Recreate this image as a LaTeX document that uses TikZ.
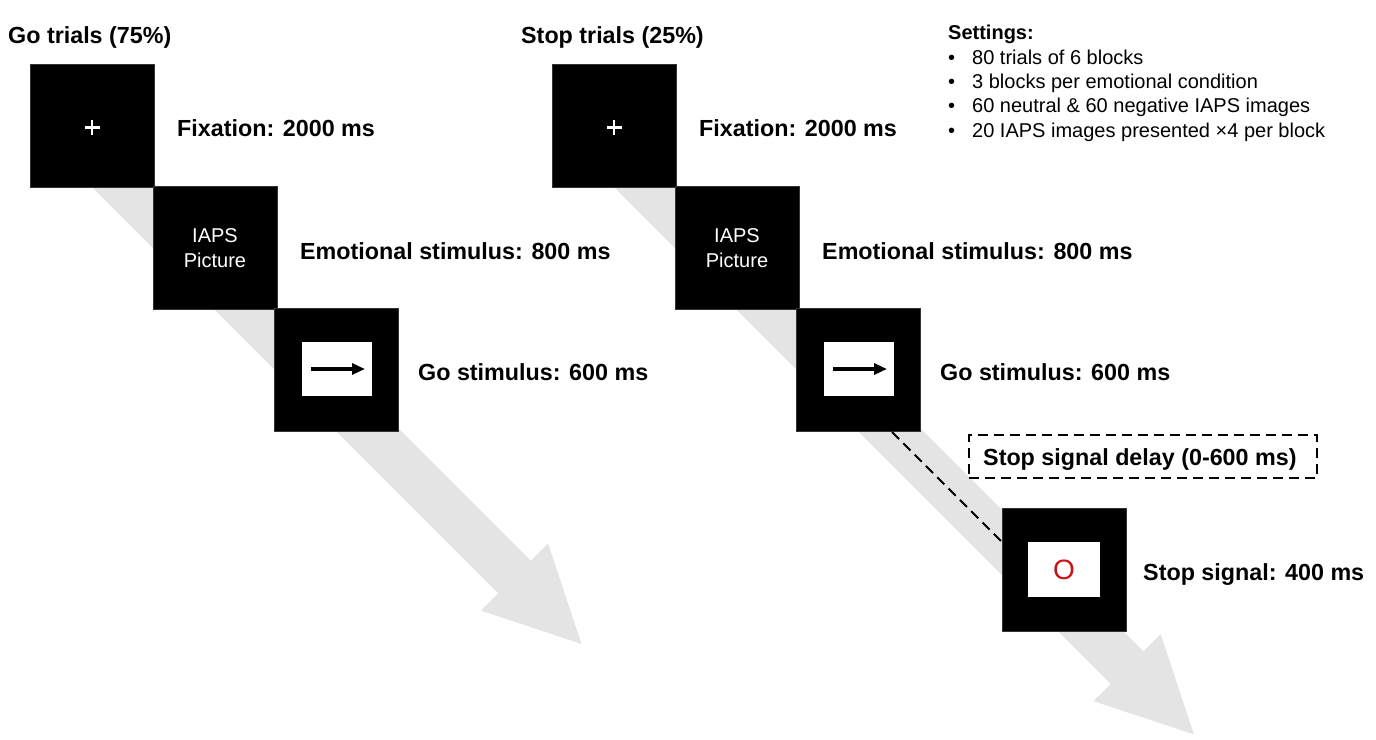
\documentclass[tikz,border=0pt]{standalone}
\usepackage{fontspec}
\setmainfont{Liberation Sans}
\usetikzlibrary{arrows.meta,calc}
\definecolor{flowgray}{RGB}{229,228,229}
\definecolor{sigred}{RGB}{200,20,25}
\begin{document}
\begin{tikzpicture}[x=1pt,y=-1pt,
  screen/.style={fill=black,draw=black!80,line width=0.4pt,minimum width=124pt,minimum height=123pt,inner sep=0pt,outer sep=0pt},
  inner/.style={fill=white,inner sep=0pt,outer sep=0pt},
  lbl/.style={font=\bfseries\fontsize{23.3}{27}\selectfont,anchor=base west,inner sep=0pt},
  setl/.style={font=\fontsize{20}{23}\selectfont,anchor=base west,inner sep=0pt},
  flow/.style={fill=flowgray,draw=none},
  fixcross/.style={draw=white,line width=2.8pt},
  goarrow/.style={line width=3.2pt,-{Triangle[length=13pt,width=11pt]}},
  delayline/.style={line width=2pt,dash pattern=on 10pt off 6pt}]
\useasboundingbox (0,0) rectangle (1376,739);
% gray time arrows
\fill[flow] (74.7,169.8) -- (498.2,593.3) -- (480.9,610.6) -- (581.5,644) -- (548.1,543.4) -- (530.8,560.7) -- (107.3,137.2) -- cycle;
\fill[flow] (596.7,169.8) -- (1110.7,683.8) -- (1093.4,701.1) -- (1194,734.5) -- (1160.6,633.9) -- (1143.3,651.3) -- (629.3,137.2) -- cycle;
% ---------- Go trials ----------
\node[lbl] (gtitle) at (8,43) {Go trials (75\%)};
\node[screen] (g1) at (92,125.5) {};
\draw[fixcross] ($(g1.center)+(-7.5,2)$) -- ($(g1.center)+(7.5,2)$);
\draw[fixcross] ($(g1.center)+(0,-5.5)$) -- ($(g1.center)+(0,9.5)$);
\node[screen] (g2) at (215,248) {};
\node[text=white,align=center,font=\fontsize{20}{25}\selectfont,inner sep=0pt] (g2t) at (215,248.5) {IAPS\\Picture};
\node[screen] (g3) at (336.5,369.5) {};
\node[inner,minimum width=70pt,minimum height=54pt] (g3i) at (337,369) {};
\coordinate (g3a) at ($(g3i.west)+(9,0)$);
\coordinate (g3b) at ($(g3i.east)+(-7,0)$);
\draw[goarrow] (g3a) -- (g3b);
\node[lbl] (gl1) at (177,136.5) {Fixation: 2000 ms};
\node[lbl] (gl2) at (300,259) {Emotional stimulus: 800 ms};
\node[lbl] (gl3) at (418,380.5) {Go stimulus: 600 ms};
% ---------- Stop trials ----------
\node[lbl] (stitle) at (521,43) {Stop trials (25\%)};
\node[screen] (s1) at (614,125.5) {};
\draw[fixcross] ($(s1.center)+(-7.5,2)$) -- ($(s1.center)+(7.5,2)$);
\draw[fixcross] ($(s1.center)+(0,-5.5)$) -- ($(s1.center)+(0,9.5)$);
\node[screen] (s2) at (737,248) {};
\node[text=white,align=center,font=\fontsize{20}{25}\selectfont,inner sep=0pt] (s2t) at (737,248.5) {IAPS\\Picture};
\node[screen] (s3) at (858.5,369.5) {};
\node[inner,minimum width=70pt,minimum height=54pt] (s3i) at (859,369) {};
\coordinate (s3a) at ($(s3i.west)+(9,0)$);
\coordinate (s3b) at ($(s3i.east)+(-7,0)$);
\draw[goarrow] (s3a) -- (s3b);
\node[lbl] (sl1) at (699,136.5) {Fixation: 2000 ms};
\node[lbl] (sl2) at (822,259) {Emotional stimulus: 800 ms};
\node[lbl] (sl3) at (940,380.5) {Go stimulus: 600 ms};
% stop signal
\node[screen] (ss) at (1064,569.5) {};
\node[inner,minimum width=72pt,minimum height=55pt,text=sigred,font=\fontsize{28}{30}\selectfont] (ssi) at (1064,569.5) {O};
\node[lbl] (sl4) at (1143,580) {Stop signal: 400 ms};
% delay
\node[draw=black,delayline,minimum width=348pt,minimum height=43pt,inner sep=0pt] (delay) at (1143,456.5) {};
\node[lbl] (delayt) at (983,465) {Stop signal delay (0-600 ms)};
\coordinate (dstart) at (892,432);
\coordinate (dend) at (1002,542);
\draw[delayline] (dstart) -- (dend);
% settings
\node[setl,font=\bfseries\fontsize{20}{23}\selectfont] (sett) at (948,39) {Settings:};
\node[setl] (b1) at (948,64) {•};
\node[setl] (t1) at (972,64) {80 trials of 6 blocks};
\node[setl] (b2) at (948,88.4) {•};
\node[setl] (t2) at (972,88.4) {3 blocks per emotional condition};
\node[setl] (b3) at (948,112.8) {•};
\node[setl] (t3) at (972,112.8) {60 neutral \& 60 negative IAPS images};
\node[setl] (b4) at (948,137.2) {•};
\node[setl] (t4) at (972,137.2) {20 IAPS images presented ×4 per block};
\end{tikzpicture}
\end{document}
